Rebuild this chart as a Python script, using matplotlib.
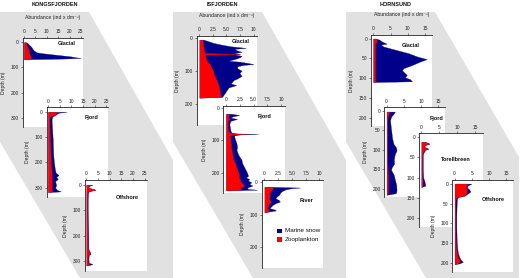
import matplotlib
matplotlib.use("Agg")
import matplotlib.pyplot as plt
from matplotlib.patches import Polygon, Rectangle
import numpy as np

plt.rcParams['font.family'] = ['Liberation Sans', 'DejaVu Sans']

# ---------------- data (depth in m, abundance in ind x dm^-3) ----------------
fjord_names = ["KONGSFJORDEN", "ISFJORDEN", "HORNSUND"]
series_names = ["Marine snow", "Zooplankton"]

kongs_glacial_depth = [0, 3, 6, 10, 15, 20, 25, 30, 35, 40, 44, 48, 52, 56, 60, 62, 64, 66, 67, 68]
kongs_glacial_zoo   = [0.6, 0.8, 1.0, 1.0, 1.2, 1.5, 1.8, 2.0, 2.0, 2.2, 2.3, 2.5, 2.6, 2.8, 3.0, 3.0, 3.0, 2.8, 2.5, 0]
kongs_glacial_snow  = [0.2, 0.7, 0.8, 1.2, 1.6, 1.8, 1.8, 2.0, 2.6, 3.3, 6.2, 10.0, 13.9, 17.7, 20.0, 21.8, 17.0, 9.2, 0.5, 0]

kongs_fjord_depth = [0, 3, 6, 10, 15, 20, 30, 50, 80, 110, 140, 170, 200, 220, 240, 250, 258, 265, 275, 290, 300, 310, 315, 318]
kongs_fjord_zoo   = [4.0, 3.8, 3.5, 3.0, 1.5, 0.8, 0.6, 0.6, 0.7, 0.8, 0.9, 1.0, 1.2, 1.3, 1.5, 1.6, 1.5, 1.6, 1.5, 1.6, 1.5, 1.5, 1.8, 0]
kongs_fjord_snow  = [4.0, 1.2, 0.5, 0.5, 1.0, 1.0, 0.9, 1.0, 1.1, 1.2, 1.2, 1.2, 1.3, 1.5, 1.7, 2.9, 2.0, 2.6, 1.5, 1.9, 1.5, 2.5, 3.7, 0]

kongs_offshore_depth = [0, 4, 8, 12, 16, 20, 24, 28, 35, 60, 100, 150, 200, 250, 265, 270, 275, 290, 305, 310, 313, 316]
kongs_offshore_zoo   = [2.0, 1.2, 0.7, 0.8, 2.2, 3.8, 1.6, 0.6, 0.4, 0.3, 0.3, 0.4, 0.5, 0.5, 1.3, 1.5, 0.6, 0.6, 0.7, 1.0, 0.8, 0]
kongs_offshore_snow  = [0.6, 0.3, 0.2, 0.2, 0.3, 0.2, 0.4, 0.3, 0.3, 0.3, 0.3, 0.3, 0.3, 0.3, 0.3, 0.3, 0.4, 0.3, 0.3, 1.6, 0.7, 0]

isf_glacial_depth = [5, 10, 15, 20, 25, 30, 33, 37, 42, 46, 48, 50, 54, 58, 62, 66, 69, 72, 76, 79, 82, 86, 92, 99,
                     107, 115, 123, 128, 134, 138, 143, 150, 159, 167, 174, 179, 181]
isf_glacial_zoo   = [0.5, 0.6, 0.6, 0.7, 0.7, 0.8, 0.8, 0.8, 0.9, 0.9, 7.5, 1.0, 1.0, 1.1, 1.2, 1.3, 1.4, 1.5, 1.7, 1.9, 2.0, 2.1, 2.3, 2.5,
                     2.6, 2.8, 3.0, 3.2, 3.3, 3.4, 3.5, 3.6, 3.7, 3.8, 3.9, 4.0, 0]
isf_glacial_snow  = [0.25, 1.1, 2.0, 3.3, 5.0, 7.8, 5.7, 6.0, 6.9, 5.4, 0.0, 5.5, 6.8, 6.4, 5.7, 4.7, 4.0, 6.0, 7.3, 8.1, 6.0, 4.9, 4.7, 5.3,
                     4.8, 5.0, 4.0, 3.1, 2.7, 2.4, 3.3, 1.8, 1.3, 0.9, 0.5, 0.2, 0]

isf_fjord_depth = [18, 22, 26, 30, 34, 40, 50, 60, 70, 76, 79, 80, 82, 85, 90, 100, 110, 120, 130, 140, 150, 160, 170, 180,
                   190, 200, 210, 215, 220, 225, 230, 235, 240, 245, 250, 253, 255]
isf_fjord_zoo   = [0.3, 0.5, 0.4, 0.3, 0.6, 0.3, 0.3, 0.3, 0.4, 0.5, 1.5, 3.8, 1.2, 0.7, 0.7, 0.8, 0.9, 0.9, 1.0, 1.1, 1.2, 1.3, 1.6, 1.8,
                   2.0, 2.2, 2.4, 2.2, 2.6, 2.5, 2.8, 3.0, 3.3, 2.8, 2.5, 2.8, 0]
isf_fjord_snow  = [0.7, 1.9, 0.8, 0.5, 1.4, 0.5, 0.3, 0.4, 0.4, 0.5, 0.5, 2.1, 1.3, 0.8, 0.8, 0.9, 1.0, 1.1, 0.9, 1.0, 1.2, 1.5, 1.3, 1.4,
                   1.5, 1.6, 1.6, 1.4, 1.6, 1.5, 1.8, 1.2, 1.5, 1.2, 1.3, 2.8, 0]

isf_river_depth = [15, 17, 19, 22, 25, 30, 35, 40, 45, 50, 55, 60, 65, 70, 75, 80, 84, 87, 90, 93]
isf_river_zoo   = [1.2, 1.5, 1.5, 1.4, 1.2, 1.0, 0.9, 1.0, 0.9, 0.8, 0.9, 1.2, 0.8, 0.7, 0.6, 0.5, 0.7, 0.9, 0.6, 0]
isf_river_snow  = [0.3, 5.0, 3.5, 2.6, 2.3, 2.0, 1.9, 1.6, 1.3, 1.2, 1.7, 1.6, 1.2, 0.8, 0.6, 0.4, 1.1, 1.2, 0.4, 0]

horns_glacial_depth = [0, 3, 7, 11, 13, 15, 20, 28, 37, 45, 52, 58, 67, 75, 80, 86, 92, 98, 103, 108, 110]
horns_glacial_zoo   = [0.6, 0.9, 1.0, 0.6, 0.5, 0.5, 0.5, 0.5, 0.5, 0.5, 0.5, 0.5, 0.5, 0.5, 0.5, 0.5, 0.5, 0.5, 0.5, 0.5, 0]
horns_glacial_snow  = [0.2, 0.9, 1.4, 2.8, 3.4, 1.7, 2.4, 5.8, 9.7, 12.1, 15.0, 13.1, 10.7, 8.2, 7.8, 8.5, 9.2, 8.7, 10.2, 10.7, 0]

horns_fjord_depth = [2, 5, 8, 15, 25, 40, 55, 70, 85, 95, 102, 111, 125, 136, 145, 152, 165, 177, 190, 205, 212, 216]
horns_fjord_zoo   = [0.8, 0.7, 0.6, 0.3, 0.2, 0.2, 0.2, 0.2, 0.2, 0.2, 0.2, 0.2, 0.2, 0.2, 0.3, 0.3, 0.4, 0.4, 0.4, 0.4, 0.4, 0]
horns_fjord_snow  = [1.6, 1.5, 1.4, 1.0, 0.8, 1.0, 1.2, 1.4, 1.8, 2.6, 2.7, 2.2, 1.9, 2.0, 1.2, 1.0, 1.7, 2.0, 2.4, 2.5, 2.3, 0]

horns_torell_depth = [12, 15, 17, 20, 24, 27, 29, 32, 36, 40, 45, 60, 80, 100, 108, 115, 120, 123]
horns_torell_zoo   = [0.8, 1.8, 1.9, 0.8, 0.6, 1.2, 1.7, 0.7, 0.5, 0.3, 0.2, 0.2, 0.2, 0.2, 0.3, 0.3, 0.3, 0]
horns_torell_snow  = [0.2, 0.2, 0.3, 0.2, 0.2, 0.3, 0.3, 0.3, 0.3, 0.2, 0.2, 0.2, 0.2, 0.3, 0.5, 0.7, 0.8, 0]

horns_offshore_depth = [0, 2, 5, 10, 15, 20, 25, 30, 34, 38, 50, 80, 110, 140, 165, 175, 185, 192, 196, 200, 202]
horns_offshore_zoo   = [3.7, 3.6, 3.4, 3.3, 3.5, 3.6, 3.3, 2.8, 0.6, 0.3, 0.2, 0.2, 0.2, 0.3, 0.5, 0.7, 1.0, 1.4, 1.5, 1.0, 0]
horns_offshore_snow  = [1.2, 0.9, 0.4, 0.3, 0.8, 1.0, 0.5, 0.2, 0.4, 0.4, 0.4, 0.3, 0.3, 0.3, 0.3, 0.3, 0.4, 0.5, 0.9, 0.5, 0]

kongs_xticks = [0, 5, 10, 15, 20, 25]
kongs_xticklabels = ["0", "5", "10", "15", "20", "25"]
kongs_yticks = [0, 100, 200, 300]
isf_xticks = [0, 2.5, 5, 7.5, 10]
isf_xticklabels = ["0", "2.5", "5.0", "7.5", "10"]
isf_yticks = [0, 100, 200]
horns_xticks = [0, 5, 10, 15]
horns_xticklabels = ["0", "5", "10", "15"]
horns_yticks = [0, 50, 100, 150, 200]

# ---------------- styling / layout ----------------
W, H = 520, 278
SNOW = "#00008B"
ZOO = "#FF0000"
GREY = "#e1e1e1"
INK = "#222222"

fig = plt.figure(figsize=(W / 100, H / 100), dpi=100)


def fpt(x, y):
    return (x / W, 1 - y / H)


# grey perspective bands
for x0, right_drop in [(0, 160), (173, 160), (346, 157)]:
    pts = [(x0, 12), (x0 + 89, 12), (x0 + 173, right_drop), (x0 + 173, 278),
           (x0 + 80, 278), (x0, 142)]
    fig.patches.append(Polygon([fpt(*p) for p in pts], closed=True,
                               transform=fig.transFigure, facecolor=GREY,
                               edgecolor="none", zorder=-10))

# titles
for name, cx in zip(fjord_names, [55, 222.5, 396]):
    fig.text(cx / W, 1 - 5 / H, name, ha="center", va="center",
             fontsize=4.0, fontweight="bold", color="#111111")


def make_panel(rect, depth, zoo, snow, label, label_pos, xlim, ylim,
               xticks, xticklabels, yticks, xlabel=False, ylabel=True):
    left, top, w, h = rect
    ax = fig.add_axes([left / W, 1 - (top + h) / H, w / W, h / H])
    ax.set_zorder(1)
    ax.set_facecolor("white")
    d = np.asarray(depth, float)
    z = np.asarray(zoo, float)
    s = np.asarray(snow, float)
    ax.fill_betweenx(d, 0, z + s, color=SNOW, lw=0.2)
    ax.fill_betweenx(d, 0, z, color=ZOO, lw=0.2)
    ax.set_xlim(*xlim)
    ax.set_ylim(*ylim)
    ax.xaxis.tick_top()
    ax.set_xticks(xticks)
    ax.set_xticklabels(xticklabels)
    ax.set_yticks(yticks)
    for sp in ["right", "bottom"]:
        ax.spines[sp].set_visible(False)
    for sp in ["left", "top"]:
        ax.spines[sp].set_linewidth(0.6)
        ax.spines[sp].set_color(INK)
    ax.tick_params(labelsize=3.5, length=1.5, width=0.4, pad=1.2,
                   colors=INK, labelcolor=INK)
    ax.text(label_pos[0], label_pos[1], label, transform=ax.transAxes,
            ha="center", va="center", fontsize=4.0, fontweight="bold",
            color="#111111")
    if xlabel:
        ax.text(0.5, 1 + 20.5 / h, "Abundance (ind x dm\u207b\u00b3)",
                transform=ax.transAxes, ha="center", va="center",
                fontsize=3.7, color=INK)
    if ylabel:
        ax.text(-19.0 / w, 0.5, "Depth (m)", transform=ax.transAxes,
                rotation=90, ha="center", va="center", fontsize=3.6,
                color=INK)
    return ax


KX, KY = (-0.6, 25.9), (336, -18)
IX, IY = (-0.5, 10.7), (264, -6)
HX, HY = (-0.67, 17.1), (221, -9)

make_panel((22.7, 37.7, 60.3, 89.3), kongs_glacial_depth, kongs_glacial_zoo, kongs_glacial_snow,
           "Glacial", (0.73, 0.94), KX, KY, kongs_xticks, kongs_xticklabels, kongs_yticks, xlabel=True)
make_panel((46.7, 107.3, 61.6, 89.4), kongs_fjord_depth, kongs_fjord_zoo, kongs_fjord_snow,
           "Fjord", (0.72, 0.89), KX, KY, kongs_xticks, kongs_xticklabels, kongs_yticks)
make_panel((85, 180, 61.7, 90.7), kongs_offshore_depth, kongs_offshore_zoo, kongs_offshore_snow,
           "Offshore", (0.68, 0.81), KX, KY, kongs_xticks, kongs_xticklabels, kongs_yticks)

make_panel((196.7, 36, 60.6, 89), isf_glacial_depth, isf_glacial_zoo, isf_glacial_snow,
           "Glacial", (0.72, 0.94), IX, IY, isf_xticks, isf_xticklabels, isf_yticks, xlabel=True)
make_panel((223.3, 106, 61.7, 87.3), isf_fjord_depth, isf_fjord_zoo, isf_fjord_snow,
           "Fjord", (0.66, 0.885), IX, IY, isf_xticks, isf_xticklabels, isf_yticks)
river = make_panel((261.7, 180, 61.6, 88.3), isf_river_depth, isf_river_zoo, isf_river_snow,
                   "River", (0.73, 0.77), IX, IY, isf_xticks, isf_xticklabels, isf_yticks)

make_panel((371, 35, 61.3, 91), horns_glacial_depth, horns_glacial_zoo, horns_glacial_snow,
           "Glacial", (0.65, 0.88), HX, HY, horns_xticks, horns_xticklabels, horns_yticks, xlabel=True)
make_panel((384.3, 107.3, 61, 89.4), horns_fjord_depth, horns_fjord_zoo, horns_fjord_snow,
           "Fjord", (0.86, 0.88), HX, HY, horns_xticks, horns_xticklabels, horns_yticks)
make_panel((419, 133.3, 64, 93.4), horns_torell_depth, horns_torell_zoo, horns_torell_snow,
           "Torellbreen", (0.58, 0.72), HX, HY, horns_xticks, horns_xticklabels, horns_yticks, ylabel=False)
make_panel((452.3, 180, 61, 91.7), horns_offshore_depth, horns_offshore_zoo, horns_offshore_snow,
           "Offshore", (0.675, 0.79), HX, HY, horns_xticks, horns_xticklabels, horns_yticks)

# legend inside the River panel
for i, (nm, col) in enumerate(zip(series_names, [SNOW, ZOO])):
    yc = 1 - (51 + 8.5 * i) / 88.3
    river.add_patch(Rectangle((0.25, yc - 0.028), 0.08, 0.056, transform=river.transAxes,
                              facecolor=col, edgecolor="none", clip_on=False))
    river.text(0.38, yc, nm, transform=river.transAxes, ha="left", va="center",
               fontsize=4.5, color="#111111")

fig.savefig("out.png", dpi=100)
